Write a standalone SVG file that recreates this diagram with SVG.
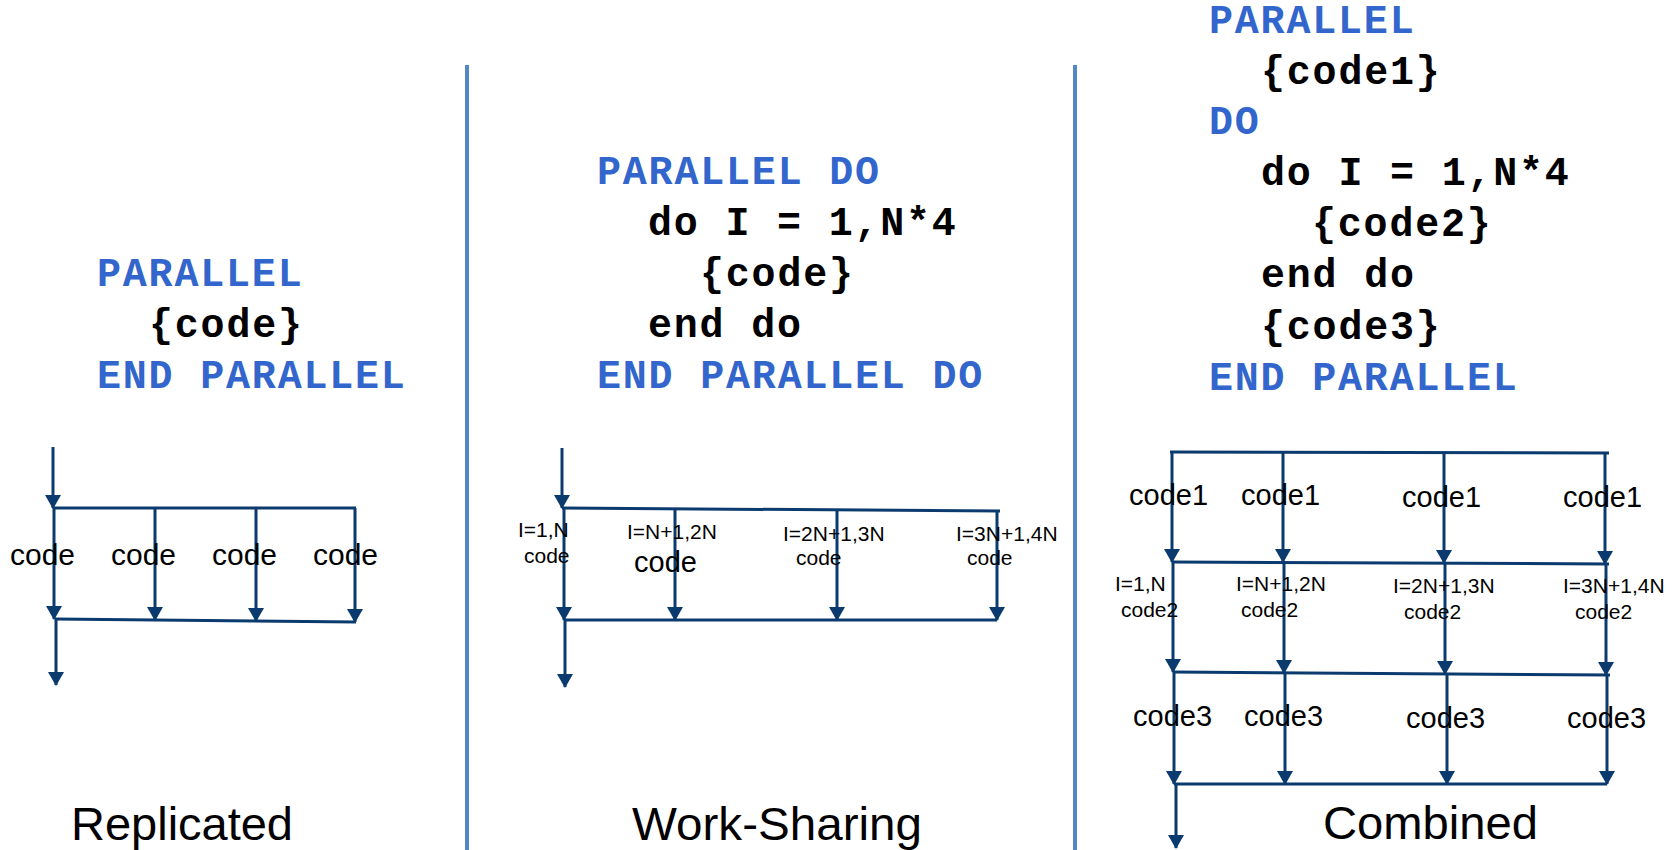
<svg xmlns="http://www.w3.org/2000/svg" width="1676" height="850" viewBox="0 0 1676 850">
<defs>
<style>
.kw{font-family:"Liberation Mono","Courier New",monospace;font-weight:bold;font-size:40px;letter-spacing:1.8px;fill:#3366CC}
.cd{font-family:"Liberation Mono","Courier New",monospace;font-weight:bold;font-size:40px;letter-spacing:1.8px;fill:#000}
.lb{font-family:"Liberation Sans",Arial,sans-serif;fill:#000}
.big{font-size:30px}
.mid{font-size:29px}
.sm{font-size:21px}
.ttl{font-family:"Liberation Sans",Arial,sans-serif;font-size:46px;fill:#000}
.ln{stroke:#0B3A6E;stroke-width:3;fill:none}
.ar{stroke:#0B3A6E;stroke-width:3;fill:none;marker-end:url(#ah)}
.sep{stroke:#5585C5;stroke-width:4}
</style>
<marker id="ah" viewBox="0 0 14 16" refX="13" refY="8" markerWidth="14" markerHeight="16" markerUnits="userSpaceOnUse" orient="auto">
<path d="M0,0 L14,8 L0,16 z" fill="#0B3A6E"/>
</marker>
</defs>
<rect width="1676" height="850" fill="#fff"/>

<g id="separators">
<line class="sep" x1="467" y1="65" x2="467" y2="850"/>
<line class="sep" x1="1075" y1="65" x2="1075" y2="850"/>
</g>

<g id="code-replicated">
<text class="kw" x="97" y="286">PARALLEL</text>
<text class="cd" x="149" y="337">{code}</text>
<text class="kw" x="97" y="388">END PARALLEL</text>
</g>

<g id="code-worksharing">
<text class="kw" x="597" y="184">PARALLEL DO</text>
<text class="cd" x="648" y="235">do I = 1,N*4</text>
<text class="cd" x="700" y="286">{code}</text>
<text class="cd" x="648" y="337">end do</text>
<text class="kw" x="597" y="388">END PARALLEL DO</text>
</g>

<g id="code-combined">
<text class="kw" x="1209" y="33">PARALLEL</text>
<text class="cd" x="1261" y="84">{code1}</text>
<text class="kw" x="1209" y="134">DO</text>
<text class="cd" x="1261" y="185">do I = 1,N*4</text>
<text class="cd" x="1312" y="236">{code2}</text>
<text class="cd" x="1261" y="287">end do</text>
<text class="cd" x="1261" y="339">{code3}</text>
<text class="kw" x="1209" y="390">END PARALLEL</text>
</g>

<g id="connectors">
<!-- Replicated -->
<line class="ar" x1="53" y1="447" x2="53" y2="508"/>
<line class="ln" x1="53" y1="508" x2="356" y2="508"/>
<line class="ar" x1="54" y1="508" x2="54" y2="619"/>
<line class="ar" x1="155" y1="508" x2="155" y2="620"/>
<line class="ar" x1="256" y1="508" x2="256" y2="621"/>
<line class="ar" x1="355" y1="508" x2="355" y2="622"/>
<line class="ln" x1="55" y1="619" x2="356" y2="622"/>
<line class="ar" x1="56" y1="619" x2="56" y2="685"/>
<!-- Work-Sharing -->
<line class="ar" x1="562" y1="448" x2="562" y2="508"/>
<line class="ln" x1="562" y1="508" x2="1000" y2="511"/>
<line class="ar" x1="564" y1="508" x2="564" y2="620"/>
<line class="ar" x1="675" y1="509" x2="675" y2="620"/>
<line class="ar" x1="837" y1="510" x2="837" y2="620"/>
<line class="ar" x1="997" y1="511" x2="997" y2="620"/>
<line class="ln" x1="564" y1="620" x2="997" y2="620"/>
<line class="ar" x1="565" y1="620" x2="565" y2="687"/>
<!-- Combined -->
<line class="ln" x1="1170" y1="452" x2="1609" y2="453"/>
<line class="ar" x1="1172" y1="452" x2="1172" y2="562"/>
<line class="ar" x1="1283" y1="452" x2="1283" y2="562"/>
<line class="ar" x1="1444" y1="453" x2="1444" y2="563"/>
<line class="ar" x1="1605" y1="453" x2="1605" y2="564"/>
<line class="ln" x1="1172" y1="562" x2="1609" y2="564"/>
<line class="ar" x1="1173" y1="562" x2="1173" y2="672"/>
<line class="ar" x1="1284" y1="563" x2="1284" y2="673"/>
<line class="ar" x1="1445" y1="563" x2="1445" y2="674"/>
<line class="ar" x1="1606" y1="564" x2="1606" y2="675"/>
<line class="ln" x1="1173" y1="672" x2="1610" y2="675"/>
<line class="ar" x1="1174" y1="672" x2="1174" y2="784"/>
<line class="ar" x1="1285" y1="673" x2="1285" y2="784"/>
<line class="ar" x1="1447" y1="674" x2="1447" y2="784"/>
<line class="ar" x1="1607" y1="675" x2="1607" y2="784"/>
<line class="ln" x1="1174" y1="784" x2="1607" y2="784"/>
<line class="ar" x1="1176" y1="784" x2="1176" y2="848"/>
</g>

<g id="labels-replicated">
<text class="lb big" x="10" y="565">code</text>
<text class="lb big" x="111" y="565">code</text>
<text class="lb big" x="212" y="565">code</text>
<text class="lb big" x="313" y="565">code</text>
</g>

<g id="labels-worksharing">
<text class="lb sm" x="518" y="537">I=1,N</text>
<text class="lb sm" x="524" y="563">code</text>
<text class="lb sm" x="627" y="539">I=N+1,2N</text>
<text class="lb mid" x="634" y="572">code</text>
<text class="lb sm" x="783" y="541">I=2N+1,3N</text>
<text class="lb sm" x="796" y="565">code</text>
<text class="lb sm" x="956" y="541">I=3N+1,4N</text>
<text class="lb sm" x="967" y="565">code</text>
</g>

<g id="labels-combined">
<text class="lb mid" x="1129" y="505">code1</text>
<text class="lb mid" x="1241" y="505">code1</text>
<text class="lb mid" x="1402" y="507">code1</text>
<text class="lb mid" x="1563" y="507">code1</text>
<text class="lb sm" x="1115" y="591">I=1,N</text>
<text class="lb sm" x="1121" y="617">code2</text>
<text class="lb sm" x="1236" y="591">I=N+1,2N</text>
<text class="lb sm" x="1241" y="617">code2</text>
<text class="lb sm" x="1393" y="593">I=2N+1,3N</text>
<text class="lb sm" x="1404" y="619">code2</text>
<text class="lb sm" x="1563" y="593">I=3N+1,4N</text>
<text class="lb sm" x="1575" y="619">code2</text>
<text class="lb mid" x="1133" y="726">code3</text>
<text class="lb mid" x="1244" y="726">code3</text>
<text class="lb mid" x="1406" y="728">code3</text>
<text class="lb mid" x="1567" y="728">code3</text>
</g>

<g id="titles">
<text class="ttl" x="71" y="840" textLength="222" lengthAdjust="spacingAndGlyphs">Replicated</text>
<text class="ttl" x="632" y="840" textLength="290" lengthAdjust="spacingAndGlyphs">Work-Sharing</text>
<text class="ttl" x="1323" y="839" textLength="215" lengthAdjust="spacingAndGlyphs">Combined</text>
</g>
</svg>
